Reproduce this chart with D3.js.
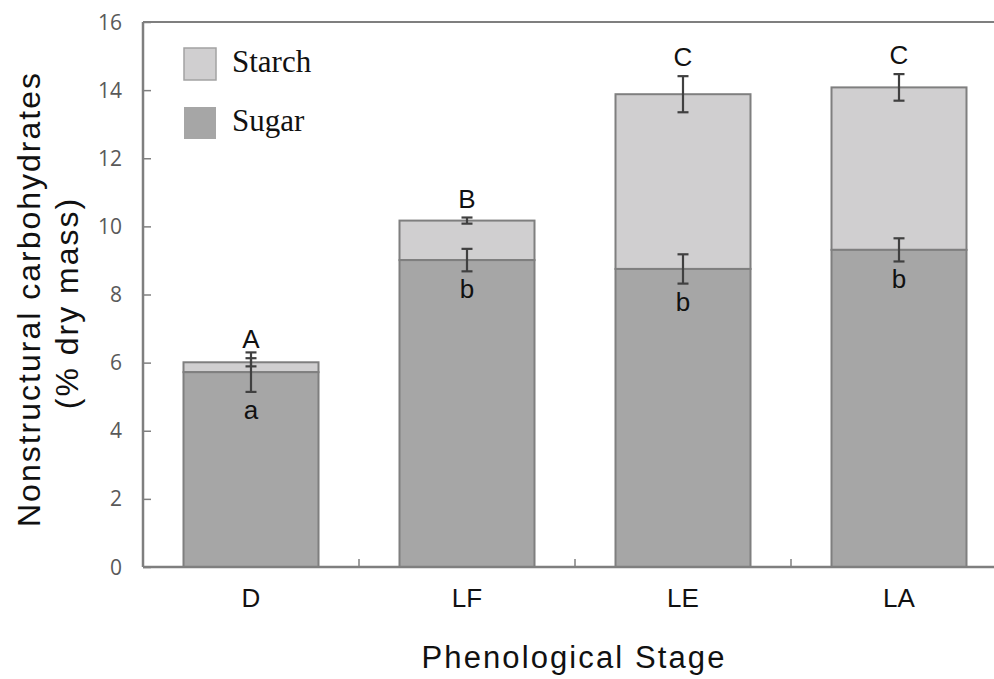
<!DOCTYPE html>
<html>
<head>
<meta charset="utf-8">
<script src="https://cdn.jsdelivr.net/npm/d3@7"></script>
<style>
  body { margin: 0; background: #fff; }
  svg { display: block; }
</style>
</head>
<body>
<div id="chart"></div>
<script>
'use strict'

// values
const stages = ['D', 'LF', 'LE', 'LA']
const sugar = [5.72, 9.01, 8.75, 9.31]
const starch = [0.29, 1.16, 5.13, 4.77]
const sugarErr = [0.58, 0.33, 0.43, 0.34]
const totalErr = [0.12, 0.09, 0.53, 0.39]
const upperLetters = ['A', 'B', 'C', 'C']
const lowerLetters = ['a', 'b', 'b', 'b']
const yTicks = [0, 2, 4, 6, 8, 10, 12, 14, 16]
const legendItems = ['Starch', 'Sugar']

////////////////////////////////////
//////////// svg setup /////////////
////////////////////////////////////

const svgWidth = 994, svgHeight = 679
const margin = { left: 143, right: -13, top: 22, bottom: 112 }
const width = svgWidth - margin.left - margin.right
const height = svgHeight - margin.top - margin.bottom

const svg = d3.select('#chart')
    .append('svg')
    .attr('width', svgWidth)
    .attr('height', svgHeight)

const g = svg.append('g')
    .attr('transform', `translate(${margin.left},${margin.top})`)

////////////////////////////////////
//////////// Scales ////////////////
////////////////////////////////////

const x = d3.scaleBand()
    .domain(stages)
    .range([0, width])
    .paddingInner(0.375)
    .paddingOuter(0.1875)

const y = d3.scaleLinear()
    .domain([0, 16])
    .range([height, 0])

const colors = { Starch: '#d0cfd0', Sugar: '#a6a6a6' }
const axisColor = '#7f7f7f'
const errColor = '#404040'

////////////////////////////////////
//////////// add to DOM ////////////
////////////////////////////////////

// frame (top line + left axis)
g.append('line')
    .attr('x1', 0).attr('x2', width)
    .attr('y1', 0).attr('y2', 0)
    .attr('stroke', axisColor).attr('stroke-width', 2)

// y axis, ticks pointing inward
const yAxis = g.append('g')
    .call(d3.axisRight(y).tickValues(yTicks).tickSize(8).tickFormat(''))
yAxis.select('.domain').remove()
yAxis.selectAll('.tick line').attr('stroke', axisColor).attr('stroke-width', 1.5)

g.append('line')
    .attr('x1', 0).attr('x2', 0)
    .attr('y1', 0).attr('y2', height)
    .attr('stroke', axisColor).attr('stroke-width', 2.5)

g.selectAll('.ytick-label')
    .data(yTicks)
    .join('text')
    .attr('class', 'ytick-label')
    .attr('x', -21)
    .attr('y', d => y(d))
    .attr('dy', '0.36em')
    .attr('text-anchor', 'end')
    .style('font-family', 'Open Sans, Liberation Sans, sans-serif')
    .style('font-size', '21px')
    .style('fill', '#595959')
    .text(d => d)

// bars
stages.forEach((s, i) => {
    const x0 = x(s), bw = x.bandwidth()
    g.append('rect')
        .attr('x', x0).attr('width', bw)
        .attr('y', y(sugar[i] + starch[i]))
        .attr('height', y(sugar[i]) - y(sugar[i] + starch[i]))
        .attr('fill', colors.Starch)
        .attr('stroke', axisColor).attr('stroke-width', 2)
    g.append('rect')
        .attr('x', x0).attr('width', bw)
        .attr('y', y(sugar[i]))
        .attr('height', y(0) - y(sugar[i]))
        .attr('fill', colors.Sugar)
        .attr('stroke', axisColor).attr('stroke-width', 2)
})

// x axis line + separator ticks
g.append('line')
    .attr('x1', 0).attr('x2', width)
    .attr('y1', height).attr('y2', height)
    .attr('stroke', axisColor).attr('stroke-width', 2.5)

const step = x.step()
g.selectAll('.xsep')
    .data(stages.slice(1))
    .join('line')
    .attr('class', 'xsep')
    .attr('x1', d => x(d) + x.bandwidth() / 2 - step / 2)
    .attr('x2', d => x(d) + x.bandwidth() / 2 - step / 2)
    .attr('y1', height).attr('y2', height - 8)
    .attr('stroke', axisColor).attr('stroke-width', 1.5)

g.selectAll('.xlabel')
    .data(stages)
    .join('text')
    .attr('class', 'xlabel')
    .attr('x', d => x(d) + x.bandwidth() / 2)
    .attr('y', height + 40)
    .attr('text-anchor', 'middle')
    .style('font-family', 'Liberation Sans, Arial, sans-serif')
    .style('font-size', '26px')
    .style('fill', '#111')
    .text(d => d)

// error bars
function errBar(cx, mean, err) {
    const cap = 5.5
    const top = y(mean + err), bot = y(mean - err)
    g.append('line')
        .attr('x1', cx).attr('x2', cx).attr('y1', top).attr('y2', bot)
        .attr('stroke', errColor).attr('stroke-width', 2.2)
    ;[top, bot].forEach(yy => {
        g.append('line')
            .attr('x1', cx - cap).attr('x2', cx + cap).attr('y1', yy).attr('y2', yy)
            .attr('stroke', errColor).attr('stroke-width', 2.2)
    })
}

stages.forEach((s, i) => {
    const cx = x(s) + x.bandwidth() / 2
    errBar(cx, sugar[i], sugarErr[i])
    errBar(cx, sugar[i] + starch[i], totalErr[i])

    g.append('text')
        .attr('x', cx)
        .attr('y', y(sugar[i] + starch[i] + totalErr[i]) - 10)
        .attr('text-anchor', 'middle')
        .style('font-family', 'Liberation Sans, Arial, sans-serif')
        .style('font-size', '26px')
        .style('fill', '#111')
        .text(upperLetters[i])

    g.append('text')
        .attr('x', cx)
        .attr('y', y(sugar[i] - sugarErr[i]) + 27)
        .attr('text-anchor', 'middle')
        .style('font-family', 'Liberation Sans, Arial, sans-serif')
        .style('font-size', '26px')
        .style('fill', '#111')
        .text(lowerLetters[i])
})

// legend
const legend = g.append('g')
    .attr('transform', 'translate(41,26)')

legendItems.forEach((k, i) => {
    const row = legend.append('g')
        .attr('transform', `translate(0,${i * 59})`)
    row.append('rect')
        .attr('x', 0).attr('y', 0)
        .attr('width', 32).attr('height', 32)
        .attr('fill', colors[k])
        .attr('stroke', k === 'Starch' ? '#a3a3a3' : 'none')
        .attr('stroke-width', 1.5)
    row.append('text')
        .attr('x', 48)
        .attr('y', 24)
        .style('font-family', 'Liberation Serif, Times New Roman, serif')
        .style('font-size', '31px')
        .style('fill', '#111')
        .text(k)
})

// axis titles
svg.append('text')
    .attr('transform', 'translate(574,668)')
    .attr('text-anchor', 'middle')
    .style('font-family', 'Liberation Sans, Arial, sans-serif')
    .style('font-size', '31px')
    .style('letter-spacing', '2.1px')
    .style('fill', '#111')
    .text('Phenological Stage')

const ylab = svg.append('text')
    .attr('transform', 'translate(40,299) rotate(-90)')
    .attr('text-anchor', 'middle')
    .style('font-family', 'Liberation Sans, Arial, sans-serif')
    .style('font-size', '32px')
    .style('letter-spacing', '2px')
    .style('fill', '#111')
ylab.append('tspan').attr('x', 0).attr('y', 0).text('Nonstructural carbohydrates')
ylab.append('tspan').attr('x', -4).attr('y', 38).text('(% dry mass)')
</script>
</body>
</html>
